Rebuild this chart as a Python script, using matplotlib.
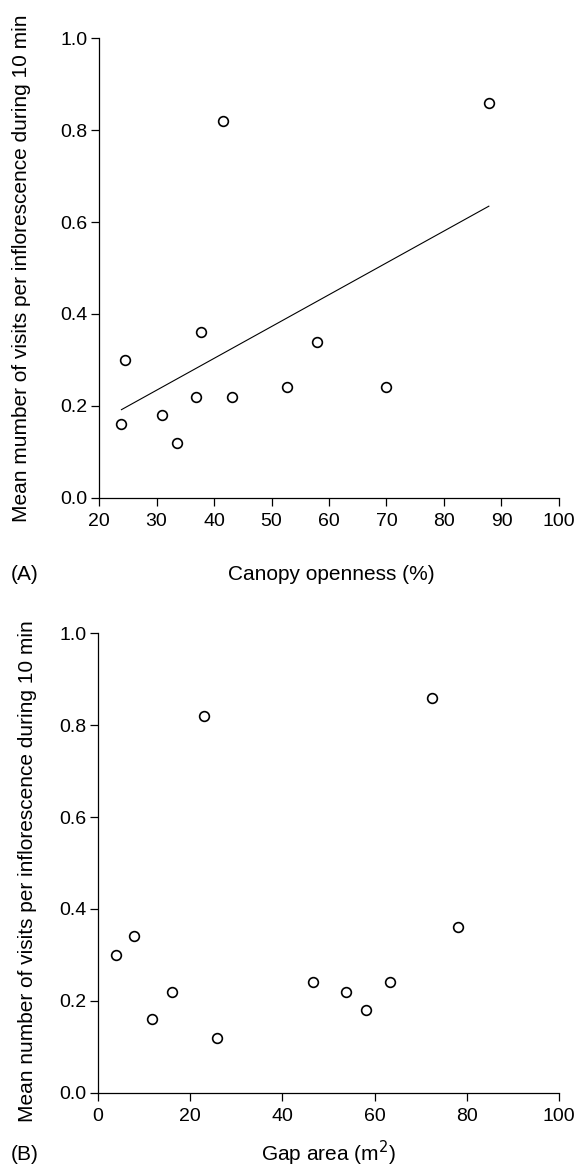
import matplotlib
matplotlib.use('Agg')
import matplotlib.pyplot as plt
import numpy as np

plt.rcParams['font.family'] = ['Liberation Sans', 'DejaVu Sans']
plt.rcParams['font.size'] = 14

# Panel A: canopy openness vs visits
canopy = [23.9, 24.6, 31.0, 33.5, 36.8, 37.7, 41.6, 43.2, 52.7, 58.0, 70.0, 87.8]
visits_a = [0.16, 0.30, 0.18, 0.12, 0.22, 0.36, 0.82, 0.22, 0.24, 0.34, 0.24, 0.86]

# Panel B: gap area vs visits
gap_area = [3.9, 7.7, 11.7, 16.1, 23.0, 25.8, 46.7, 53.9, 58.2, 63.3, 72.4, 78.1]
visits_b = [0.30, 0.34, 0.16, 0.22, 0.82, 0.12, 0.24, 0.22, 0.18, 0.24, 0.86, 0.36]

y_ticks = [0.0, 0.2, 0.4, 0.6, 0.8, 1.0]

fig = plt.figure(figsize=(5.78, 11.7), dpi=100)
ax_a = fig.add_axes([0.1713, 0.5746, 0.7958, 0.3927])
ax_b = fig.add_axes([0.1696, 0.0661, 0.7975, 0.3926])


def style(ax):
    for s in ('top', 'right'):
        ax.spines[s].set_visible(False)
    for s in ('left', 'bottom'):
        ax.spines[s].set_linewidth(0.9)
    ax.tick_params(direction='out', length=5.5, width=0.9)
    ax.tick_params(axis='x', pad=5.5)
    ax.tick_params(axis='y', pad=3)
    ax.set_ylim(0, 1.0)
    ax.set_yticks(y_ticks)
    ax.set_yticklabels([f'{v:.1f}' for v in y_ticks])


# (A)
style(ax_a)
ax_a.plot(canopy, visits_a, 'o', mfc='white', mec='black', ms=7, mew=1.2,
          clip_on=False, zorder=3)
k, b = np.polyfit(canopy, visits_a, 1)
xs = np.array([min(canopy), max(canopy)])
ax_a.plot(xs, k * xs + b, color='black', lw=0.8)
ax_a.set_xlim(20, 100)
ax_a.set_xticks(range(20, 101, 10))
ax_a.set_xlabel('Canopy openness (%)', fontsize=15, va='center')
ax_a.xaxis.set_label_coords(0.506, -0.168)
ax_a.set_ylabel('Mean mumber of visits per inflorescence during 10 min',
                fontsize=15, va='center')
ax_a.yaxis.set_label_coords(-0.168, 0.5)
fig.text(0.019, 1 - 575 / 1170, '(A)', fontsize=15, va='center', ha='left')

# (B)
style(ax_b)
ax_b.plot(gap_area, visits_b, 'o', mfc='white', mec='black', ms=7, mew=1.2,
          clip_on=False, zorder=3)
ax_b.set_xlim(0, 100)
ax_b.set_xticks(range(0, 101, 20))
ax_b.set_xlabel('Gap area (m$^2$)', fontsize=15, va='center')
ax_b.xaxis.set_label_coords(0.5, -0.133)
ax_b.set_ylabel('Mean number of visits per inflorescence during 10 min',
                fontsize=15, va='center')
ax_b.yaxis.set_label_coords(-0.152, 0.483)
fig.text(0.019, 1 - 1154 / 1170, '(B)', fontsize=15, va='center', ha='left')

fig.savefig('out.png', dpi=100)
